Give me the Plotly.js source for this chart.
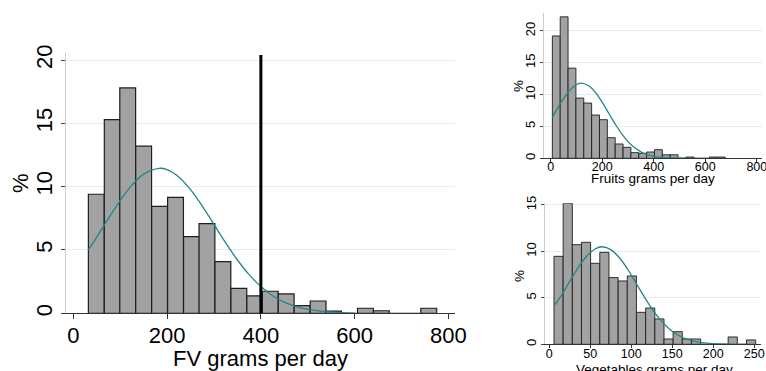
<!DOCTYPE html>
<html>
<head>
<meta charset="utf-8">
<script src="https://cdn.plot.ly/plotly-3.0.1.min.js"></script>
<style>html,body{margin:0;padding:0;background:#fff;}#chart{width:766px;height:371px;}</style>
</head>
<body>
<div id="chart"></div>
<script>
// ---- Fruit + vegetable (FV) grams per day: histogram (% of sample) ----
const fvBinMid = [49, 83, 116, 150, 184, 218, 252, 285, 319, 353, 387, 420, 454, 488, 522, 555, 589, 623, 657, 691, 724, 758];
const fvPct    = [9.4, 15.3, 17.8, 13.2, 8.45, 9.16, 6.05, 7.08, 4.08, 1.97, 1.37, 1.74, 1.53, 0.6, 0.97, 0.18, 0, 0.4, 0.2, 0, 0, 0.4];
const fvBinWidth = 33.77;
// normal density overlay
const fvCurveX = [32, 50, 75, 100, 125, 150, 183, 200, 225, 250, 275, 300, 325, 350, 375, 400, 425, 450, 475, 500, 550, 600];
const fvCurveY = [5.0, 6.02, 7.49, 8.9, 10.12, 10.99, 11.45, 11.34, 10.76, 9.76, 8.47, 7.02, 5.56, 4.21, 3.05, 2.11, 1.39, 0.88, 0.53, 0.31, 0.09, 0.02];
const fvRecommended = 400;

// ---- Fruits grams per day ----
const frBinMid = [21.5, 52, 82.5, 113, 143.5, 174, 204.5, 235, 265.5, 296, 326.5, 357, 387.5, 418, 448.5, 479, 509.5, 540, 570.5, 601, 631.5, 662];
const frPct    = [19.2, 22.2, 14.15, 9.45, 8.67, 6.79, 6.06, 3.24, 2.25, 1.72, 0.89, 0.78, 0.99, 1.36, 0.55, 0.55, 0, 0.2, 0, 0, 0.2, 0.2];
const frBinWidth = 30.5;
const frCurveX = [7, 25, 50, 75, 100, 120, 150, 175, 200, 225, 250, 275, 300, 325, 350, 375, 400, 450, 500, 550];
const frCurveY = [6.5, 7.76, 9.4, 10.74, 11.58, 11.8, 11.32, 10.26, 8.77, 7.07, 5.39, 3.87, 2.62, 1.68, 1.01, 0.58, 0.31, 0.08, 0.01, 0];

// ---- Vegetables grams per day ----
const vgBinMid = [11.3, 22.5, 33.7, 44.8, 56.0, 67.2, 78.4, 89.6, 100.7, 111.9, 123.1, 134.3, 145.5, 156.6, 167.8, 179.0, 190.2, 201.4, 212.5, 223.7, 234.9, 246.1];
const vgPct    = [9.47, 15.18, 10.73, 10.98, 8.72, 9.9, 7.18, 6.82, 7.36, 3.44, 3.91, 2.73, 0.57, 1.36, 0.57, 0.57, 0, 0, 0, 0.79, 0, 0.47];
const vgBinWidth = 11.18;
const vgCurveX = [6.1, 15.2, 25.3, 35.4, 45.5, 55.7, 64.8, 75.9, 86.0, 96.2, 106.3, 116.4, 126.5, 136.6, 146.8, 156.9, 167.0, 177.1, 192.3, 207.5, 222.7];
const vgCurveY = [4.18, 5.31, 6.82, 8.28, 9.48, 10.26, 10.5, 10.14, 9.26, 8.0, 6.52, 5.03, 3.66, 2.52, 1.63, 1.0, 0.58, 0.32, 0.12, 0.03, 0];

// ---- tick values and texts ----
const fvXTicks = [0, 200, 400, 600, 800];
const fvYTicks = [0, 5, 10, 15, 20];
const frXTicks = [0, 200, 400, 600, 800];
const frYTicks = [0, 5, 10, 15, 20];
const vgXTicks = [0, 50, 100, 150, 200, 250];
const vgYTicks = [0, 5, 10, 15];
const fvXTitle = 'FV grams per day';
const frXTitle = 'Fruits grams per day';
const vgXTitle = 'Vegetables grams per day';
const yTitle = '%';

const FONT = 'Liberation Sans, Arial, sans-serif';
const BAR_FILL = '#a2a2a2';
const BAR_LINE = '#1e1e1e';
const CURVE = '#1f8787';
const GRID = '#e3eef0';

function barTrace(x, y, w, xa, ya, lw) {
  return {type: 'bar', x: x, y: y, width: w, xaxis: xa, yaxis: ya,
          marker: {color: BAR_FILL, line: {color: BAR_LINE, width: lw}},
          hoverinfo: 'skip', showlegend: false};
}
function curveTrace(x, y, xa, ya) {
  return {type: 'scatter', mode: 'lines', x: x, y: y, xaxis: xa, yaxis: ya,
          line: {color: CURVE, width: 1.3, shape: 'spline'},
          hoverinfo: 'skip', showlegend: false};
}

const data = [
  barTrace(fvBinMid, fvPct, fvBinWidth, 'x', 'y', 1.2),
  curveTrace(fvCurveX, fvCurveY, 'x', 'y'),
  barTrace(frBinMid, frPct, frBinWidth, 'x2', 'y2', 0.9),
  curveTrace(frCurveX, frCurveY, 'x2', 'y2'),
  barTrace(vgBinMid, vgPct, vgBinWidth, 'x3', 'y3', 0.9),
  curveTrace(vgCurveX, vgCurveY, 'x3', 'y3')
];

function xAxis(domain, range, ticks, anchor, fs, title, tl, lso) {
  const ax = {domain: domain, range: range, anchor: anchor, tickvals: ticks,
          ticks: 'outside', ticklen: tl, tickcolor: '#333', tickwidth: 1,
          showline: true, linecolor: '#333', linewidth: 1,
          showgrid: false, zeroline: false, fixedrange: true,
          ticklabeloverflow: 'allow', ticklabelstandoff: lso,
          tickfont: {family: FONT, size: fs, color: '#000'}};
  if (title) ax.title = {text: title, font: {family: FONT, size: fs, color: '#000'}, standoff: 0};
  return ax;
}
function yAxis(domain, range, ticks, anchor, fs, tl) {
  return {domain: domain, range: range, anchor: anchor, tickvals: ticks,
          tickangle: -90, ticks: 'outside', ticklen: tl, tickcolor: '#444', tickwidth: 1,
          showline: true, linecolor: '#cccccc', linewidth: 1,
          showgrid: true, gridcolor: GRID, gridwidth: 1, zeroline: false, fixedrange: true,
          ticklabeloverflow: 'allow',
          tickfont: {family: FONT, size: fs, color: '#000'}};
}
function label(text, px, py, fs, angle) {
  return {text: text, xref: 'paper', yref: 'paper', x: px / 766, y: 1 - py / 371,
          xanchor: 'center', yanchor: 'middle', showarrow: false, textangle: angle,
          font: {family: FONT, size: fs, color: '#000'}};
}

const layout = {
  width: 766, height: 371,
  margin: {l: 0, r: 0, t: 0, b: 0},
  paper_bgcolor: '#fff', plot_bgcolor: '#fff',
  bargap: 0,
  xaxis:  xAxis([66/766, 455/766], [-15.6, 814], fvXTicks, 'y', 22, fvXTitle, 5, -3),
  yaxis:  yAxis([0.1555, 0.857], [0, 20.55], fvYTicks, 'x', 22, 4),
  xaxis2: xAxis([544.3/766, 761.7/766], [-25, 819], frXTicks, 'y2', 12.5, null, 3, -6),
  yaxis2: yAxis([0.5733, 0.9642], [0, 22.76], frYTicks, 'x2', 13, 3),
  xaxis3: xAxis([545/766, 761/766], [-5.24, 258.2], vgXTicks, 'y3', 12.5, null, 3, -5),
  yaxis3: yAxis([0.072, 0.452], [0, 15.18], vgYTicks, 'x3', 13, 3),
  annotations: [
    label(yTitle, 20, 183, 22, -90),
    label(yTitle, 518, 86, 13.5, -90),
    label(yTitle, 519, 276, 13.5, -90),
    label(frXTitle, 653, 178.5, 13.5, 0),
    label(vgXTitle, 654, 369, 13.5, 0)
  ],
  shapes: [{type: 'line', xref: 'x', yref: 'y', x0: fvRecommended, x1: fvRecommended,
            y0: 0, y1: 20.4, line: {color: '#000', width: 3}}]
};

Plotly.newPlot('chart', data, layout, {staticPlot: true, displayModeBar: false});
</script>
</body>
</html>
